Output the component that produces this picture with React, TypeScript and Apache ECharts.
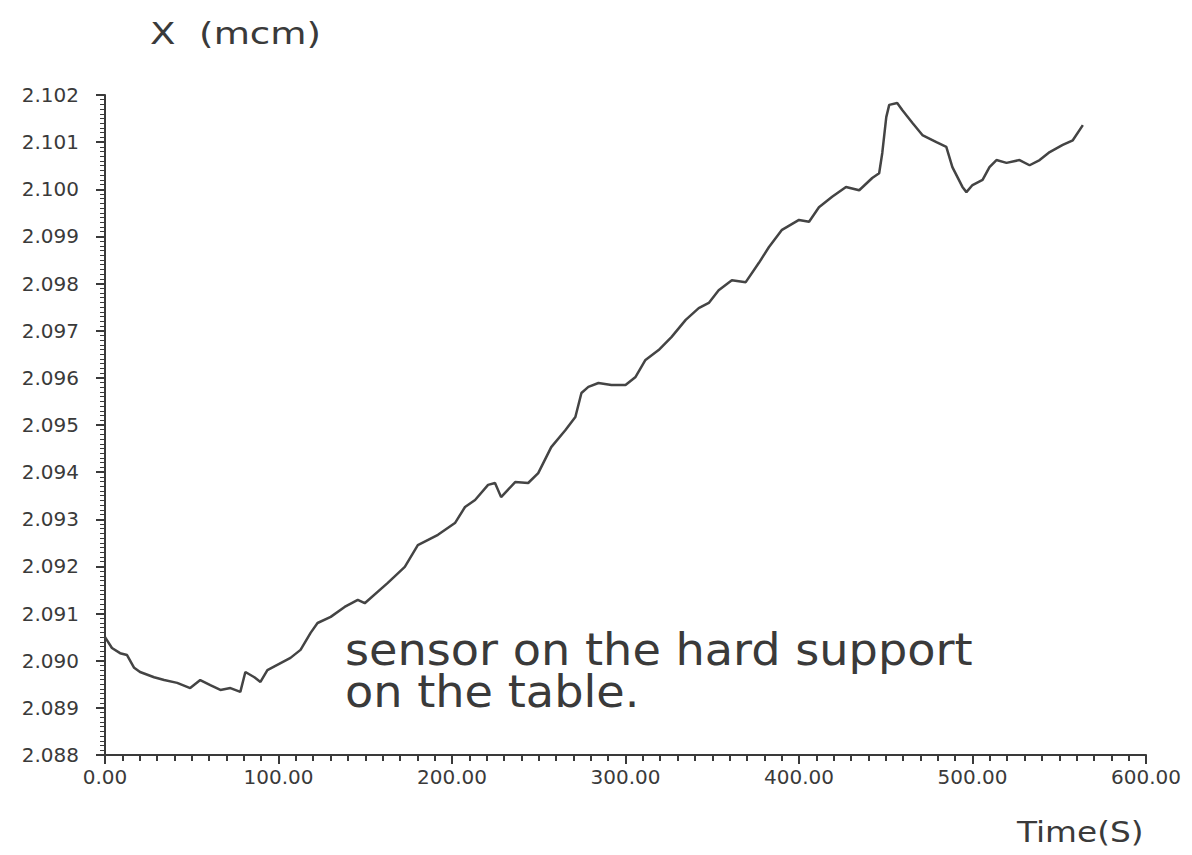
import React, { useEffect, useRef } from "react";
import * as echarts from "echarts";

// Time (s)
const timeS: number[] = [
  0, 4.0, 8.7, 12.7, 16.8, 20.2, 28.3, 34.1, 41.6, 49.1, 54.9, 60.7, 66.5, 72.3, 78.0,
  80.9, 86.1, 89.6, 93.6, 101.2, 106.9, 112.7, 118.5, 122.5, 130.1, 138.1, 145.7, 149.7,
  163.0, 172.8, 180.3, 191.9, 201.7, 207.5, 213.3, 220.8, 224.8, 228.3, 236.4, 243.9,
  249.7, 257.2, 265.3, 271.1, 274.6, 278.6, 284.4, 291.9, 300.0, 305.8, 311.5, 319.1,
  326.6, 334.7, 342.2, 348.0, 353.7, 361.3, 369.3, 376.9, 382.6, 390.2, 400.0, 405.8,
  411.5, 419.1, 427.1, 434.7, 442.2, 446.2, 448.0, 450.3, 452.0, 456.6, 459.5, 465.3,
  471.1, 479.2, 484.9, 488.4, 494.2, 496.5, 500.0, 505.8, 509.8, 513.8, 519.6, 527.1,
  532.9, 538.7, 544.5, 552.0, 557.8, 563.6,
];

// X (mcm)
const xMcm: number[] = [
  2.0905, 2.09027, 2.09016, 2.09012, 2.08985, 2.08976, 2.08965, 2.08959, 2.08953, 2.08942,
  2.08959, 2.08948, 2.08938, 2.08942, 2.08934, 2.08976, 2.08965, 2.08955, 2.0898, 2.08995,
  2.09006, 2.09023, 2.09059, 2.0908, 2.09093, 2.09114, 2.09129, 2.09122, 2.09165, 2.09199,
  2.09245, 2.09267, 2.09292, 2.09326, 2.09341, 2.09373, 2.09377, 2.09347, 2.09379, 2.09377,
  2.09398, 2.09453, 2.09489, 2.09517, 2.09568, 2.09581, 2.09589, 2.09585, 2.09585, 2.09602,
  2.09638, 2.09659, 2.09687, 2.09723, 2.09748, 2.09759, 2.09786, 2.09807, 2.09803, 2.09844,
  2.09877, 2.09914, 2.09935, 2.09931, 2.09962, 2.09984, 2.10005, 2.09998, 2.10024, 2.10034,
  2.10077, 2.10153, 2.10179, 2.10183, 2.10168, 2.10141, 2.10115, 2.101, 2.1009, 2.10047,
  2.10005, 2.09994, 2.10009, 2.1002, 2.10047, 2.10062, 2.10056, 2.10062, 2.10051, 2.10062,
  2.10079, 2.10094, 2.10104, 2.10136,
];

const yAxisTitle = "X  (mcm)";
const xAxisTitle = "Time(S)";
const noteLines: string[] = ["sensor on the hard support", "on the table."];

const FONT = "'DejaVu Sans', sans-serif";
const INK = "#3a3a3a";

export default function App() {
  const ref = useRef<HTMLDivElement>(null);

  useEffect(() => {
    document.body.style.margin = "0";
    if (!ref.current) return;
    const chart = echarts.init(ref.current, undefined, { renderer: "svg" });
    const data = timeS.map((t, i) => [t, xMcm[i]]);
    chart.setOption({
      animation: false,
      backgroundColor: "#ffffff",
      grid: { left: 105, right: 46, top: 95, bottom: 100, containLabel: false },
      xAxis: {
        type: "value",
        min: 0,
        max: 600,
        interval: 100,
        axisLine: { show: true, lineStyle: { color: INK, width: 2 } },
        axisTick: { show: true, inside: false, length: 9, lineStyle: { color: INK, width: 2 } },
        minorTick: { show: true, splitNumber: 10, length: 6, lineStyle: { color: INK, width: 2 } },
        splitLine: { show: false },
        axisLabel: {
          margin: 12,
          fontFamily: FONT,
          fontSize: 20,
          color: INK,
          formatter: (v: number) => v.toFixed(2),
        },
      },
      yAxis: {
        type: "value",
        min: 2.088,
        max: 2.102,
        interval: 0.001,
        axisLine: { show: true, lineStyle: { color: INK, width: 2 } },
        axisTick: { show: true, inside: false, length: 9, lineStyle: { color: INK, width: 2 } },
        minorTick: { show: true, splitNumber: 10, length: 5, lineStyle: { color: INK, width: 1 } },
        splitLine: { show: false },
        axisLabel: {
          margin: 26,
          fontFamily: FONT,
          fontSize: 20,
          color: INK,
          formatter: (v: number) => v.toFixed(3),
        },
      },
      series: [
        {
          type: "line",
          data,
          showSymbol: false,
          symbol: "none",
          lineStyle: { color: "#444444", width: 2.5 },
        },
      ],
      graphic: [
        {
          type: "text",
          left: 150,
          top: 18,
          scaleX: 1.2,
          style: { text: yAxisTitle, fontFamily: FONT, fontSize: 31, fill: INK },
        },
        {
          type: "text",
          left: 1017,
          top: 818,
          scaleX: 1.17,
          style: { text: xAxisTitle, fontFamily: FONT, fontSize: 28, fill: INK },
        },
        {
          type: "text",
          left: 345,
          top: 628,
          scaleX: 1.05,
          style: { text: noteLines[0], fontFamily: FONT, fontSize: 44, fill: INK },
        },
        {
          type: "text",
          left: 345,
          top: 670,
          scaleX: 1.05,
          style: { text: noteLines[1], fontFamily: FONT, fontSize: 44, fill: INK },
        },
      ],
    });
    return () => chart.dispose();
  }, []);

  return <div ref={ref} style={{ width: 1192, height: 855 }} />;
}
